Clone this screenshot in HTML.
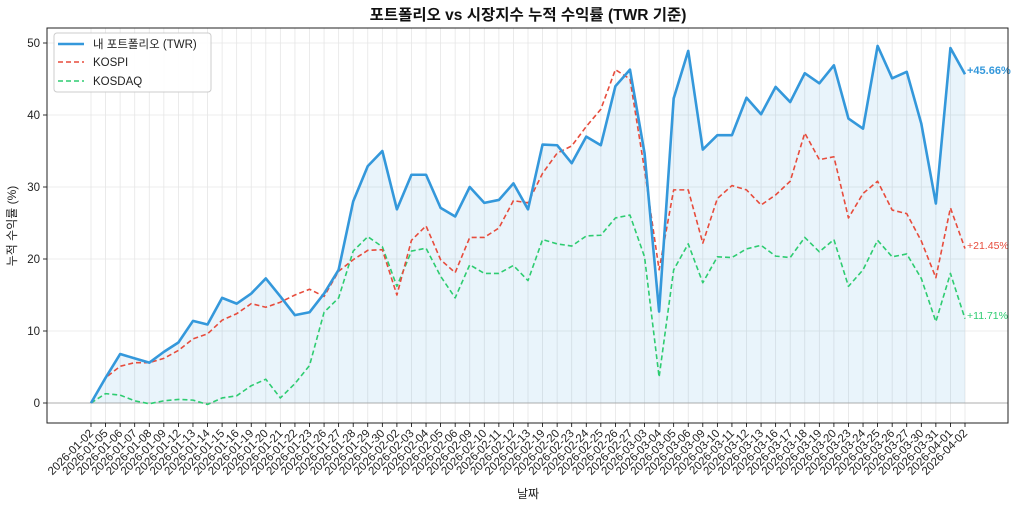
<!DOCTYPE html>
<html><head><meta charset="utf-8"><style>
body{margin:0;background:#fff;}
svg text{font-family:"Liberation Sans","Noto Sans CJK KR",sans-serif;}
</style></head><body>
<svg id="s" width="1024" height="511" xmlns="http://www.w3.org/2000/svg"></svg>
<script>
const dates=["01-02","01-05","01-06","01-07","01-08","01-09","01-12","01-13","01-14","01-15","01-16","01-19","01-20","01-21","01-22","01-23","01-26","01-27","01-28","01-29","01-30","02-02","02-03","02-04","02-05","02-06","02-09","02-10","02-11","02-12","02-13","02-19","02-20","02-23","02-24","02-25","02-26","02-27","03-03","03-04","03-05","03-06","03-09","03-10","03-11","03-12","03-13","03-16","03-17","03-18","03-19","03-20","03-23","03-24","03-25","03-26","03-27","03-30","03-31","04-01","04-02"];
const twr=[0,3.5,6.8,6.2,5.6,7.1,8.4,11.4,10.9,14.6,13.8,15.2,17.3,14.8,12.2,12.6,15.2,18.5,28.0,32.9,35.0,26.9,31.7,31.7,27.1,25.9,30.0,27.8,28.2,30.5,26.9,35.9,35.8,33.3,37.0,35.8,44.0,46.3,34.7,12.7,42.3,48.9,35.2,37.2,37.2,42.4,40.1,43.9,41.8,45.8,44.4,46.9,39.5,38.1,49.6,45.1,46.0,38.8,27.7,49.3,45.66];
const ks=[0,3.5,5.1,5.6,5.6,6.2,7.3,8.9,9.6,11.5,12.4,13.8,13.3,14.0,15.0,15.8,14.8,18.3,19.9,21.2,21.3,15.0,22.6,24.6,19.9,18.1,23.0,23.0,24.3,28.1,27.8,31.9,34.7,35.7,38.4,40.8,46.3,45.0,32.4,18.5,29.6,29.6,22.2,28.4,30.2,29.6,27.5,28.9,30.8,37.5,33.8,34.2,25.7,29.1,30.8,26.8,26.3,22.5,17.4,27.1,21.45];
const kq=[0,1.3,1.1,0.3,-0.1,0.3,0.5,0.4,-0.2,0.7,1.0,2.4,3.3,0.7,2.7,5.2,12.6,14.6,21.1,23.1,21.7,16.2,21.1,21.5,17.6,14.6,19.2,18.0,18.0,19.1,17.0,22.7,22.1,21.8,23.2,23.3,25.7,26.1,20.3,3.6,18.5,22.1,16.7,20.3,20.2,21.4,21.9,20.4,20.2,23.0,21.0,22.7,16.2,18.5,22.6,20.3,20.7,17.3,11.3,18.0,11.71];
const X=i=>91+i*874/60, Y=v=>403-v*7.2;
const L=47,R=1008,T=28,B=423;
let h='';
for(let i=0;i<61;i++){h+=`<line x1="${X(i)}" y1="${T}" x2="${X(i)}" y2="${B}" stroke="#e6e6e6" stroke-width="0.8"/>`;}
for(let v=0;v<=50;v+=10){h+=`<line x1="${L}" y1="${Y(v)}" x2="${R}" y2="${Y(v)}" stroke="#e6e6e6" stroke-width="0.8"/>`;
h+=`<line x1="${L-4}" y1="${Y(v)}" x2="${L}" y2="${Y(v)}" stroke="#000" stroke-width="0.8"/><text x="${L-7}" y="${Y(v)+4}" font-size="11.5" text-anchor="end" fill="#222">${v}</text>`;}
let p=twr.map((v,i)=>`${X(i)},${Y(v)}`).join(' ');
h+=`<polygon points="${X(0)},${Y(0)} ${p} ${X(60)},${Y(0)}" fill="#3498db" fill-opacity="0.11"/>`;
h+=`<line x1="${L}" y1="${Y(0)}" x2="${R}" y2="${Y(0)}" stroke="#999" stroke-width="0.8"/>`;
const pl=(a,c,w,d)=>`<polyline points="${a.map((v,i)=>`${X(i)},${Y(v)}`).join(' ')}" fill="none" stroke="${c}" stroke-width="${w}" ${d?'stroke-dasharray="5,3"':''} stroke-linejoin="round"/>`;
h+=pl(kq,'#2ecc71',1.6,1)+pl(ks,'#e74c3c',1.6,1)+pl(twr,'#3498db',2.6,0);
h+=`<text x="967" y="74" font-size="11" fill="#3498db" font-weight="bold">+45.66%</text>`;
h+=`<text x="967" y="249" font-size="10.5" fill="#e74c3c">+21.45%</text>`;
h+=`<text x="967" y="319" font-size="10.5" fill="#2ecc71">+11.71%</text>`;
h+=`<rect x="${L}" y="${T}" width="${R-L}" height="${B-T}" fill="none" stroke="#222" stroke-width="1"/>`;
for(let i=0;i<61;i++){h+=`<line x1="${X(i)}" y1="${B}" x2="${X(i)}" y2="${B+4}" stroke="#000" stroke-width="0.8"/><text transform="translate(${X(i)+3},434) rotate(-45)" font-size="11.5" text-anchor="end" fill="#222">2026-${dates[i]}</text>`;}
h+=`<text x="528" y="498" font-size="12" text-anchor="middle" fill="#222">날짜</text>`;
h+=`<text transform="translate(16,226) rotate(-90)" font-size="12" text-anchor="middle" fill="#222">누적 수익률 (%)</text>`;
h+=`<text x="528" y="20" font-size="15.5" font-weight="bold" text-anchor="middle" fill="#111">포트폴리오 vs 시장지수 누적 수익률 (TWR 기준)</text>`;
h+=`<rect x="54" y="33" width="157" height="59" rx="3" fill="#fff" fill-opacity="0.9" stroke="#ccc"/>`;
h+=`<line x1="58" y1="44" x2="84" y2="44" stroke="#3498db" stroke-width="2.6"/><text x="93" y="48" font-size="11.5" fill="#222">내 포트폴리오 (TWR)</text>`;
h+=`<line x1="58" y1="62" x2="84" y2="62" stroke="#e74c3c" stroke-width="1.6" stroke-dasharray="5,3"/><text x="93" y="66" font-size="11.5" fill="#222">KOSPI</text>`;
h+=`<line x1="58" y1="81" x2="84" y2="81" stroke="#2ecc71" stroke-width="1.6" stroke-dasharray="5,3"/><text x="93" y="85" font-size="11.5" fill="#222">KOSDAQ</text>`;
document.getElementById('s').innerHTML=h;
</script>
</body></html>
